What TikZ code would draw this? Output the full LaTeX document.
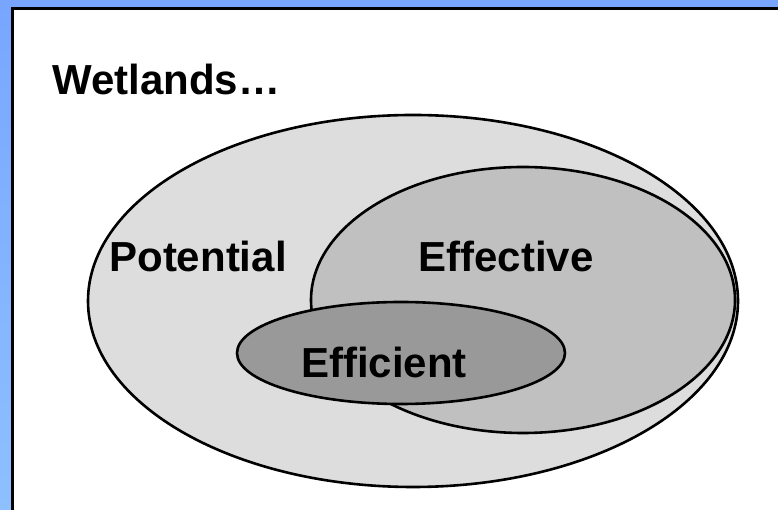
\documentclass[tikz,border=0pt]{standalone}
\usepackage{fontspec}
\setmainfont{Liberation Sans}
\usepackage{tikz}
\definecolor{framebluetop}{HTML}{78A6FF}
\definecolor{framebluebot}{HTML}{8EC0FF}
\definecolor{potgray}{HTML}{DDDDDD}
\definecolor{effgray}{HTML}{C0C0C0}
\definecolor{ecogray}{HTML}{999999}
\tikzset{
  setline/.style={draw=black,line width=2.6pt},
  setlabel/.style={font=\fontsize{42}{50}\selectfont\bfseries,inner sep=0pt}
}

\begin{document}
\begin{tikzpicture}[x=1pt,y=1pt]
\useasboundingbox (0,0) rectangle (778,510);
\clip (0,0) rectangle (778,510);
\shade[top color=framebluetop,bottom color=framebluebot] (0,0) rectangle (778,510);
\draw[fill=white,line width=3pt] (12.5,501.5) rectangle (800,-20);
\node[setlabel,anchor=base west] (wetlands) at (52,415) {Wetlands…};
\draw[setline,fill=potgray] (413,209) ellipse (325 and 186);
\draw[setline,fill=effgray] (523,210) ellipse (212 and 133);
\draw[setline,fill=ecogray] (401,157) ellipse (164 and 51);
\node[setlabel,anchor=base] (potential) at (198,238) {Potential};
\node[setlabel,anchor=base] (effective) at (506,238) {Effective};
\node[setlabel,anchor=base] (efficient) at (384,132) {Efficient};
\end{tikzpicture}
\end{document}
